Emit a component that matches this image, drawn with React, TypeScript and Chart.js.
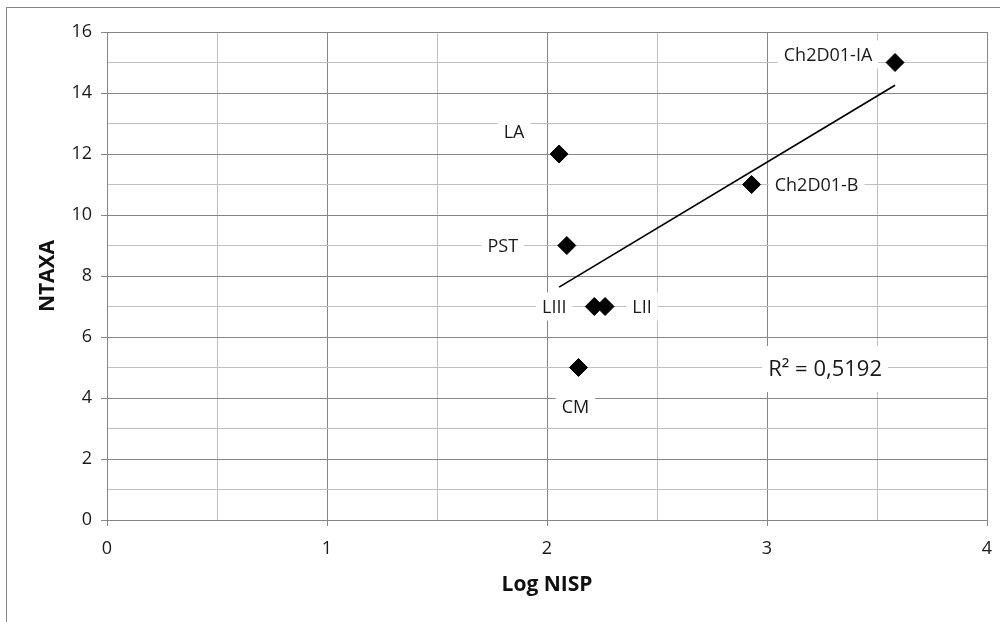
import React, { useEffect, useRef } from "react";
import { Chart, registerables } from "chart.js";

Chart.register(...registerables);

// ---- data ----
const siteLabels: string[] = ["LA", "PST", "LIII", "LII", "CM", "Ch2D01-B", "Ch2D01-IA"];
const logNisp: number[] = [2.055, 2.09, 2.215, 2.264, 2.143, 2.93, 3.582];
const ntaxa: number[] = [12, 9, 7, 7, 5, 11, 15];
const r2Text = "R² = 0,5192";
const xTitle = "Log NISP";
const yTitle = "NTAXA";

// ---- layout (label placement relative to point, pixels) ----
const labelOffsets: [number, number][] = [
  [-45, -22],
  [-64, 0],
  [-40, 0],
  [37, 0],
  [-3, 39],
  [65, 0],
  [-67, -8],
];
const r2Anchor = { x: 3.264, y: 4.95 };

const FONT = "'Open Sans', 'Noto Sans', sans-serif";
const MAJOR = "#868686";
const MINOR = "#c0c0c0";
const TEXT = "#1a1a1a";

function regression(xs: number[], ys: number[]) {
  const n = xs.length;
  const mx = xs.reduce((a, b) => a + b, 0) / n;
  const my = ys.reduce((a, b) => a + b, 0) / n;
  let sxy = 0;
  let sxx = 0;
  for (let i = 0; i < n; i++) {
    sxy += (xs[i] - mx) * (ys[i] - my);
    sxx += (xs[i] - mx) * (xs[i] - mx);
  }
  const slope = sxy / sxx;
  return { slope, intercept: my - slope * mx };
}

export default function App() {
  const ref = useRef<HTMLCanvasElement | null>(null);

  useEffect(() => {
    if (!ref.current) return;
    const { slope, intercept } = regression(logNisp, ntaxa);
    const xMin = Math.min(...logNisp);
    const xMax = Math.max(...logNisp);
    const trend = [
      { x: xMin, y: slope * xMin + intercept },
      { x: xMax, y: slope * xMax + intercept },
    ];
    const points = logNisp.map((x, i) => ({ x, y: ntaxa[i] }));

    const framePlugin = {
      id: "frame",
      beforeDraw(chart: any) {
        const ctx = chart.ctx;
        ctx.save();
        ctx.fillStyle = "#ffffff";
        ctx.fillRect(0, 0, chart.width, chart.height);
        ctx.strokeStyle = MAJOR;
        ctx.lineWidth = 1;
        ctx.strokeRect(6.5, 7.5, chart.width + 20, chart.height + 20);
        ctx.restore();
      },
    };

    const labelPlugin = {
      id: "pointLabels",
      beforeDatasetsDraw(chart: any) {
        const ctx = chart.ctx;
        const meta = chart.getDatasetMeta(1);
        ctx.save();
        ctx.font = `18px ${FONT}`;
        ctx.textAlign = "center";
        ctx.textBaseline = "middle";
        meta.data.forEach((el: any, i: number) => {
          const [dx, dy] = labelOffsets[i];
          const cx = el.x + dx;
          const cy = el.y + dy;
          const w = ctx.measureText(siteLabels[i]).width + 12;
          const h = 28;
          ctx.fillStyle = "#ffffff";
          ctx.fillRect(cx - w / 2, cy - h / 2, w, h);
          ctx.fillStyle = TEXT;
          ctx.fillText(siteLabels[i], cx, cy + 1);
        });
        // R² label
        const xs = chart.scales.x;
        const ys = chart.scales.y;
        const rx = xs.getPixelForValue(r2Anchor.x);
        const ry = ys.getPixelForValue(r2Anchor.y);
        ctx.font = `22px ${FONT}`;
        const rw = ctx.measureText(r2Text).width + 12;
        ctx.fillStyle = "#ffffff";
        ctx.fillRect(rx - rw / 2, ry - 23, rw, 46);
        ctx.fillStyle = TEXT;
        ctx.fillText(r2Text, rx, ry + 1);
        ctx.restore();
      },
    };

    const chart = new Chart(ref.current, {
      type: "scatter",
      data: {
        datasets: [
          {
            type: "line",
            data: trend,
            borderColor: "#000000",
            borderWidth: 1.7,
            pointRadius: 0,
            fill: false,
          } as any,
          {
            data: points,
            backgroundColor: "#000000",
            borderColor: "#000000",
            borderWidth: 1,
            pointStyle: "rectRot",
            pointRadius: 9,
          },
        ],
      },
      options: {
        animation: false,
        responsive: false,
        maintainAspectRatio: false,
        layout: { autoPadding: false, padding: { left: 35, top: 32, right: 13, bottom: 24 } },
        plugins: {
          legend: { display: false },
          tooltip: { enabled: false },
        },
        scales: {
          x: {
            type: "linear",
            min: 0,
            max: 4,
            afterFit: (s: any) => {
              s.height = 78;
              s.paddingLeft = 0;
              s.paddingRight = 0;
            },
            ticks: {
              stepSize: 0.5,
              padding: 12,
              color: TEXT,
              font: { family: FONT, size: 18 },
              callback: (v: any) => (Number.isInteger(v) ? String(v) : ""),
            },
            grid: {
              color: (c: any) => (Number.isInteger(c.tick?.value) ? MAJOR : MINOR),
              tickColor: (c: any) => (Number.isInteger(c.tick?.value) ? MAJOR : "rgba(0,0,0,0)"),
              tickLength: 6,
              lineWidth: 1,
            },
            border: { color: MAJOR, width: 1 },
            title: {
              display: true,
              text: xTitle,
              color: "#111111",
              font: { family: FONT, size: 21, weight: "bold" },
              padding: 0,
            },
          },
          y: {
            type: "linear",
            min: 0,
            max: 16,
            afterFit: (s: any) => {
              s.width = 72;
            },
            ticks: {
              stepSize: 1,
              padding: 9,
              color: TEXT,
              font: { family: FONT, size: 18 },
              callback: (v: any) => (v % 2 === 0 ? String(v) : ""),
            },
            grid: {
              color: (c: any) => (c.tick && c.tick.value % 2 === 0 ? MAJOR : MINOR),
              tickColor: (c: any) => (c.tick && c.tick.value % 2 === 0 ? MAJOR : "rgba(0,0,0,0)"),
              tickLength: 6,
              lineWidth: 1,
            },
            border: { color: MAJOR, width: 1 },
            title: {
              display: true,
              text: yTitle,
              color: "#111111",
              font: { family: FONT, size: 21, weight: "bold" },
              padding: 0,
            },
          },
        },
      },
      plugins: [framePlugin, labelPlugin],
    });
    return () => chart.destroy();
  }, []);

  return (
    <div style={{ position: "absolute", left: 0, top: 0, width: 1000, height: 622 }}>
      <canvas ref={ref} width={1000} height={622} style={{ width: 1000, height: 622 }} />
    </div>
  );
}
